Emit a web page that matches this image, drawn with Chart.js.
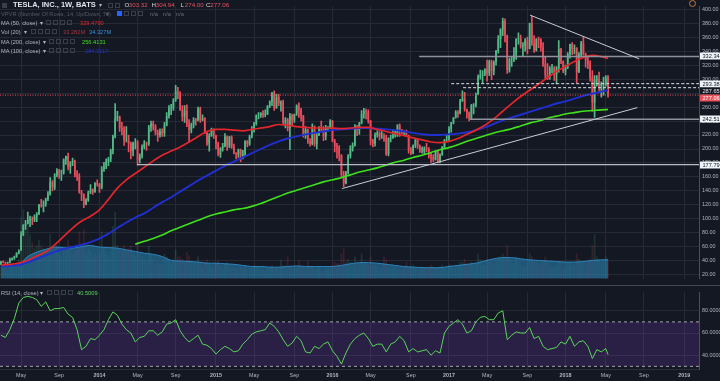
<!DOCTYPE html>
<html><head><meta charset="utf-8">
<script src="https://cdn.jsdelivr.net/npm/chart.js@4.4.1/dist/chart.umd.min.js"></script>
<style>
html,body{margin:0;padding:0;background:#141823;width:720px;height:381px;overflow:hidden;font-family:"Liberation Sans",Arial,sans-serif;}
#wrap{position:relative;width:720px;height:381px;}
#c1{position:absolute;left:0;top:0;}
#c2{position:absolute;left:0;top:286px;}
.sep{position:absolute;left:0;top:285px;width:720px;height:1px;background:#434651;}
.t{position:absolute;white-space:nowrap;font-size:5.7px;line-height:8px;color:#b2b5be;}
.sq{position:absolute;width:5px;height:5px;border:1px solid #3a3e4a;box-sizing:border-box;}
</style></head>
<body><div id="wrap">
<canvas id="c1" width="720" height="285"></canvas>
<div class="sep"></div>
<canvas id="c2" width="720" height="95"></canvas>
<div id="legend"></div>
</div>
<script>
// ---- time axis (weekly bars, week 0 = week of 2013-03-04) ----
const tickWeeks  = [9,26,44,61,78,96,113,131,148,165,183,200,217,235,252,270,287,305];
const tickLabels = ['May','Sep','2014','May','Sep','2015','May','Sep','2016','May','Sep','2017','May','Sep','2018','May','Sep','2019'];
const priceTicks = [20,40,60,80,100,120,140,160,180,200,220,240,260,280,300,320,340,360,380,400];
const rsiTicks = [40,60,80];
const rsiBand = [30,70];

// ---- weekly OHLC ----
const open = [
35,39,38,37,38,42,44,46,51,55, 77,91,93,98,100,99,103,107,120,119,
121,128,135,153,145,162,169,166,166,185, 190,174,181,183,163,160,138,135,121,127,
138,142,139,151,150,145,171,175,182,186, 198,218,244,246,230,227,212,212,208,197,
210,210,184,190,203,208,207,231,236,232, 224,220,225,223,234,247,258,259,270,282,
279,256,246,255,236,227,235,242,241,258, 242,244,223,208,219,228,219,207,192,201,
204,218,204,217,203,194,193,199,191,192, 211,207,218,226,236,248,248,251,249,250,
262,268,280,259,274,265,266,238,242,230, 248,241,250,262,256,247,220,227,211,207,
232,207,220,231,230,218,230,230,240,211, 204,202,191,163,151,166,190,201,205,232,
227,237,250,254,253,240,211,208,220,223, 218,218,215,193,216,216,220,222,234,225,
224,225,219,198,194,205,213,204,196,196, 201,200,191,189,185,197,181,192,203,214,
214,229,238,245,253,251,269,272,257,252, 244,262,263,278,303,305,306,314,308,325,
311,325,340,357,371,383,362,313,328,328, 335,357,358,347,348,355,343,380,351,341,
357,356,345,321,306,303,316,316,307,315, 343,325,311,317,336,350,343,344,310,335,
351,335,327,321,302,266,299,300,290,294, 294,303.32];
const high = [
39.5,40,38.5,38.5,44,44.5,47,52,56,82, 92,98,110,104,103,106,109,121,128,126,
130,139,159,155,165,172,171,170,186,190, 194,182,187,184,169,165,141,136,129,140,
149,143,152,156,151,175,181,186,188,200, 220,265,254,247,238,232,232,220,210,210,
215,212,193,206,212,210,234,240,240,235, 227,229,229,238,252,262,264,272,291,288,
282,262,262,263,242,237,245,244,260,260, 249,245,225,222,230,229,220,210,202,208,
222,219,218,219,207,195,200,200,198,212, 212,220,232,238,249,252,252,255,256,262,
269,281,283,278,278,269,270,245,244,251, 250,250,263,266,258,248,232,228,215,236,
233,223,232,240,232,234,232,242,241,214, 208,205,192,168,168,192,205,209,235,234,
238,255,258,257,256,241,214,223,226,225, 225,222,220,216,220,228,226,235,236,228,
226,227,220,202,206,214,214,206,203,203, 208,202,195,192,197,198,193,204,214,220,
232,238,245,255,255,271,283,281,257,253, 264,265,280,306,313,312,315,327,327,327,
326,341,362,372,387,386,363,330,331,345, 358,366,363,352,358,360,380,390,362,358,
360,358,352,331,322,318,321,318,318,355, 344,326,320,338,350,352,349,345,338,354,
360,337,332,326,312,305,305,310,296,303, 305,304.94];
const low = [
34.5,37,36,36,37.5,41,42,45,50,55, 76,85,93,89,92,96,96,106,117,110,
118,126,134,140,142,160,158,155,164,178, 170,165,176,160,155,137,126,116,120,125,
136,135,138,147,138,143,168,172,176,182, 193,216,240,225,220,205,210,196,186,190,
200,177,180,187,200,198,205,225,227,220, 211,217,218,218,233,244,249,255,268,272,
255,240,238,232,210,223,230,234,240,238, 240,222,205,197,218,215,200,190,188,197,
203,198,202,201,193,186,188,182,186,190, 203,205,216,224,234,243,245,245,246,249,
259,262,255,258,262,254,234,230,226,199, 233,238,248,245,240,217,215,208,204,206,
204,200,219,225,212,213,226,229,210,196, 187,183,160,146,150,164,187,197,204,219,
221,236,244,243,237,206,203,204,217,213, 215,211,191,190,210,215,217,218,218,222,
219,218,194,192,193,202,201,195,194,193, 196,187,181,182,184,180,180,191,201,211,
212,224,236,244,245,250,268,254,244,240, 242,250,260,278,300,295,305,297,305,299,
306,320,337,345,362,353,308,310,318,325, 328,350,344,333,340,336,343,348,338,340,
345,340,318,300,299,300,309,298,293,310, 322,309,306,315,330,335,336,295,309,332,
334,317,315,297,254,245,290,281,274,277, 290,274];
const close = [
39,38,37,38,42,44,46,51,55,77, 91,93,98,100,99,103,107,120,119,121,
128,135,153,145,162,169,166,166,185,190, 174,181,183,163,160,138,135,121,127,138,
142,139,151,150,145,171,175,182,186,198, 218,244,246,230,227,212,212,208,197,209,
210,184,190,203,208,207,231,236,232,224, 220,225,223,234,247,258,259,270,282,279,
256,246,255,236,227,235,242,241,258,242, 244,223,208,219,228,219,207,192,201,204,
218,204,217,203,194,193,199,191,192,211, 207,218,226,236,248,248,251,249,250,262,
268,280,259,274,265,266,238,242,230,248, 241,250,262,256,247,220,227,211,207,232,
207,220,231,230,218,230,230,240,211,204, 202,191,163,151,166,190,201,205,232,227,
237,250,254,253,240,211,208,220,223,218, 218,215,193,216,216,220,222,234,225,224,
225,219,198,194,205,213,204,196,196,201, 200,191,189,185,197,181,192,203,213,214,
229,238,245,253,251,269,272,257,252,244, 262,263,278,303,305,306,314,308,325,311,
325,340,357,371,383,362,313,328,328,335, 357,358,347,348,355,343,380,351,341,357,
356,345,321,306,303,315,316,307,315,343, 325,311,317,336,350,343,344,310,335,351,
335,327,321,302,266,299,300,290,294,294, 301,277.06];
// weekly volume, millions of shares
const volume = [
22,20,18,16,30,25,22,28,35, 110,125,100,115, 80,65,55,60,70,60,55,50,
50,80,60,55,60,45,40,55,50, 70,60,45,50,55,85,65,90,45,55,50,40,45,40,
45,85,55,45,40,50,95,120,60,55,50,60,50,55,60,45,42,
65,45,40,35,30,60,45,35,26,30,26,26,45,40,35,28,36,52,40,40,36,32,48,42,30,30,27,40,30,22,30,35,27,22,18,
28,32,24,19,28,30,24,19,21,19,17,24,19,24,17,19,19,24,24,21,17,17,15,19,21,24,21,19,17,34,24,24,40,21,19,21,19,33,24,21,19,33,24,21,17,17,21,15,14,19,16,17,
25,30,28,28,45,55,30,35,30,25,40,25,30,45,30,25,25,40,25,25,22,20,20,40,35,20,20,20,22,20,18,16,18,30,22,22,25,20,18,18,22,20,22,20,25,22,20,20,22,25,20,15,
25,25,20,22,22,30,30,35,28,25,30,25,28,45,35,25,25,35,30,30,25,30,40,40,45,40,60,35,28,28,40,30,25,22,22,30,45,40,30,30,25,25,30,40,30,25,20,22,25,30,25,18,
22,25,30,25,25,45,35,30,30,25,30,35,60,80,40,35,30,35,40,33.282];

// ---- indicators (every 4 weeks, last point = final week) ----
const ma50 = [34,35,37,41,47,53,63,75,87,97, 104,113,128,144,156,165,174,183,191,197,
203,210,218,225,228,228,227,226,228,230, 232,235,234,232,231,230,230,230,229,230,
231,231,228,225,222,219,216,213,210,209, 211,215,221,227,234,243,254,265,275,284,
293,302,311,318,325,331,334,332, 329.479];
const ma100 = [32,33,34,38,43,48,53,57,60,63, 67,72,79,87,95,102,108,116,124,131,
139,147,155,162,169,176,182,188,194,200, 206,211,215,218,221,223,225,227,228,229,
230,230,229,228,227,225,223,221,220,220, 221,222,224,227,231,236,241,245,249,253,
257,261,265,268,272,276,279,282, 284.3117];
const ma200 = [null,null,null,null,null,null,null,null,null,null,null,null,null,null,null,
64,68,72,77,83,88,93,98,103,107,110,113,115,118,122,127,132,137,141,145,149,153,156,159,163,
167,170,173,177,181,184,188,191,195,199,202,206,211,215,219,223,226,229,233,237,240,244,247,250,
252,254,255,256, 256.4131];
const volMA = [21,23,26,40,48,53,57,56,55,58, 60,57,56,55,52,49,46,44,40,33,
32,31,30,28,28,27,26,24,22,22, 21,21,22,23,22,22,22,22,24,27,
29,29,28,26,24,22,21,20,20,20, 22,24,26,28,32,36,38,38,36,34,
33,32,31,30,30,31,33,34, 34.327];
// RSI(14), every 2 weeks, last point = final week
const rsi = [58,56,63,73,87,92,93,92,90,84, 88,80,82,82,83,77,74,63,45,48,
55,54,58,63,72,79,76,68,63,60, 52,56,57,62,62,58,61,68,69,72,
62,56,52,55,58,50,49,46,41,45, 48,46,43,44,50,54,59,61,62,63,
69,66,61,54,48,51,57,53,43,42, 48,46,50,52,44,39,32,42,50,55,
58,60,55,48,50,50,43,50,52,57, 53,43,46,43,44,45,40,44,42,60,
66,69,72,68,60,62,70,74,75,72, 72,78,80,54,58,61,60,60,65,55,
57,48,45,46,47,52,50,57,48,52, 53,48,37,45,43,46, 40.5009];

// ---- drawings: levels and trendlines (week, price) ----
const levelPrices = [332.34, 293.38, 287.65, 242.51, 177.79];
const levelStartWeeks = [186.7, 201, 206.3, 209.4, 60.8];
const trendDownWeeks = [236.2, 284.9], trendDownPrices = [391.4, 328.9];
const trendUpWeeks = [152.2, 284.1], trendUpPrices = [143.4, 259.2];

// ---- styling ----
const X_MIN = -0.4, X_MAX = 311.6;
const BG = '#141823', GRID = '#262a35', TXT = '#b2b5be', FONT = '"Liberation Sans", Arial, sans-serif';
const GREEN = '#53b987', RED = '#eb4d5c';
const levelStyles = [
  {color:'#8f929b', width:1.6, dash:[]},
  {color:'#dfe1e8', width:1, dash:[3,2]},
  {color:'#dfe1e8', width:1, dash:[3,2]},
  {color:'#8f929b', width:1.6, dash:[]},
  {color:'#b9bcc4', width:1.3, dash:[]}
];
const labelStyles = [
  {bg:'#f0f3fa', fg:'#131722'}, {bg:'#f0f3fa', fg:'#131722'}, {bg:null, fg:'#e0e3eb'},
  {bg:'#f0f3fa', fg:'#131722'}, {bg:'#f0f3fa', fg:'#131722'}
];

Chart.defaults.font.family = FONT;
const W = close.map((_, i) => i);
const maWeeks = Array.from({length: ma50.length - 1}, (_, i) => i * 4).concat([W.length - 1]);
const rsiWeeks = Array.from({length: rsi.length - 1}, (_, i) => i * 2).concat([W.length - 1]);
const pts = (xs, ys) => xs.map((x, i) => ({x, y: ys[i]})).filter(p => p.y != null);
const isUp = i => close[i] >= open[i];
const last = close[close.length - 1];

const xTicks = s => { s.ticks = tickWeeks.map(v => ({value: v})); };
const lineDs = (data, color, width, order, extra) => Object.assign({
  type:'line', data, borderColor:color, borderWidth:width, pointRadius:0, tension:0,
  yAxisID:'y', order, fill:false
}, extra || {});

const datasets = [];
datasets.push(lineDs(pts(trendDownWeeks, trendDownPrices), '#c9ccd4', 1, 0));
datasets.push(lineDs(pts(trendUpWeeks, trendUpPrices), '#c9ccd4', 1, 0));
levelPrices.forEach((p, i) => {
  const st = levelStyles[i];
  datasets.push(lineDs([{x: levelStartWeeks[i], y: p}, {x: X_MAX, y: p}], st.color, st.width, 1, {borderDash: st.dash}));
});
datasets.push(lineDs([{x: X_MIN, y: last}, {x: X_MAX, y: last}], RED, 1, 1, {borderDash:[1,1.5]}));
datasets.push(lineDs(pts(maWeeks, ma50), '#e3262b', 1.7, 2, {tension:0.35, cubicInterpolationMode:'monotone'}));
datasets.push(lineDs(pts(maWeeks, ma100), '#1f2fd0', 1.9, 2, {tension:0.35, cubicInterpolationMode:'monotone'}));
datasets.push(lineDs(pts(maWeeks, ma200), '#3fe01c', 1.6, 2, {tension:0.35, cubicInterpolationMode:'monotone'}));
datasets.push({type:'bar', data: W.map(i => ({x:i, y:[open[i], close[i]]})), backgroundColor: W.map(i => isUp(i) ? GREEN : RED),
  grouped:false, categoryPercentage:1, barPercentage:0.72, borderWidth:0, yAxisID:'y', order:3});
datasets.push({type:'bar', data: W.map(i => ({x:i, y:[low[i], high[i]]})), backgroundColor: W.map(i => isUp(i) ? GREEN : RED),
  grouped:false, barThickness:1, borderWidth:0, yAxisID:'y', order:4});
datasets.push({type:'line', data: pts(maWeeks, volMA), yAxisID:'vol', borderColor:'#2b86bf', borderWidth:1,
  backgroundColor:'rgba(38,122,170,0.62)', fill:'origin', pointRadius:0, tension:0.3, order:5});
datasets.push({type:'bar', data: W.map(i => ({x:i, y:volume[i]})), yAxisID:'vol',
  backgroundColor: W.map(i => isUp(i) ? 'rgba(83,185,135,0.16)' : 'rgba(235,77,92,0.16)'),
  grouped:false, categoryPercentage:1, barPercentage:0.8, borderWidth:0, order:6});

const levelLabels = {
  id:'levelLabels',
  afterDraw(chart) {
    const {ctx} = chart, y = chart.scales.y;
    const x0 = y.left;
    ctx.save();
    ctx.font = '5.6px ' + FONT;
    ctx.textBaseline = 'middle';
    const items = levelPrices.map((p, i) => ({p, st: labelStyles[i]}));
    items.push({p: last, st: {bg: '#e8505b', fg: '#ffffff'}});
    items.forEach(it => { it.py = y.getPixelForValue(it.p); });
    items.sort((a, b) => a.py - b.py);
    for (let k = 1; k < items.length; k++) {
      if (items[k].py < items[k-1].py + 7) items[k].py = items[k-1].py + 7;
    }
    items.forEach(({p, st, py}) => {
      const cy = Math.round(py);
      ctx.fillStyle = st.bg || BG;
      ctx.fillRect(x0 + 1, cy - 3.5, 21, 7);
      ctx.fillStyle = st.fg;
      ctx.fillText(p.toFixed(2), x0 + 3.5, cy + 0.3);
    });
    ctx.restore();
  }
};

new Chart(document.getElementById('c1'), {
  type:'bar',
  data:{datasets},
  plugins:[levelLabels],
  options:{
    responsive:false, animation:false, devicePixelRatio:1, events:[],
    layout:{padding:0},
    plugins:{legend:{display:false}, tooltip:{enabled:false}},
    scales:{
      x:{type:'linear', min:X_MIN, max:X_MAX, offset:false, afterBuildTicks:xTicks, afterFit:s => { s.height = 0; },
         ticks:{display:false}, grid:{color:GRID, drawTicks:false, offset:false}, border:{display:false}},
      y:{type:'linear', position:'right', min:14.5, max:404.1,
         afterBuildTicks:s => { s.ticks = priceTicks.map(v => ({value:v})); }, afterFit:s => { s.width = 21; },
         grid:{color:GRID, drawTicks:false}, border:{display:true, color:'#4a4e59'},
         ticks:{color:TXT, font:{size:5.4}, padding:3, autoSkip:false, callback:v => v.toFixed(2)}},
      vol:{type:'linear', display:false, min:0, max:490}
    }
  }
});

new Chart(document.getElementById('c2'), {
  type:'line',
  data:{datasets:[
    {data: pts(rsiWeeks, rsi), borderColor:'#5ad65a', borderWidth:1, pointRadius:0, tension:0, fill:false, order:0},
    {data:[{x:X_MIN, y:rsiBand[1]}, {x:X_MAX, y:rsiBand[1]}], borderColor:'#a3a6af', borderWidth:1, borderDash:[3,3], pointRadius:0, fill:false, order:1},
    {data:[{x:X_MIN, y:rsiBand[0]}, {x:X_MAX, y:rsiBand[0]}], borderColor:'#a3a6af', borderWidth:1, borderDash:[3,3], pointRadius:0,
     fill:'-1', backgroundColor:'rgba(128,62,200,0.2)', order:2}
  ]},
  options:{
    responsive:false, animation:false, devicePixelRatio:1, events:[],
    layout:{padding:0},
    plugins:{legend:{display:false}, tooltip:{enabled:false}},
    scales:{
      x:{type:'linear', min:X_MIN, max:X_MAX, offset:false, afterBuildTicks:xTicks, afterFit:s => { s.height = 11; },
         grid:{color:GRID, drawTicks:false, offset:false}, border:{display:true, color:'#2a2e39'},
         ticks:{color:TXT, padding:2, maxRotation:0, autoSkip:false,
           font:c => ({size:5.4, weight: /^\d/.test(tickLabels[c.index] || '') ? 'bold' : 'normal'}),
           callback:(v, i) => tickLabels[i]}},
      y:{type:'linear', position:'right', min:26.7, max:96.7,
         afterBuildTicks:s => { s.ticks = rsiTicks.map(v => ({value:v})); }, afterFit:s => { s.width = 21; },
         grid:{color:GRID, drawTicks:false}, border:{display:true, color:'#4a4e59'},
         ticks:{color:TXT, font:{size:5.4}, padding:3, autoSkip:false, callback:v => v.toFixed(4)}}
    }
  }
});

// ---- legend (real text) ----
const L = document.getElementById('legend');
function txt(s, x, y, color, extra) {
  const d = document.createElement('div'); d.className = 't'; d.textContent = s;
  d.style.left = x + 'px'; d.style.top = y + 'px'; if (color) d.style.color = color;
  if (extra) Object.assign(d.style, extra); L.appendChild(d);
}
function sq(x, y, bg) {
  const d = document.createElement('div'); d.className = 'sq'; d.style.left = x + 'px'; d.style.top = y + 'px';
  if (bg) { d.style.background = bg; d.style.borderColor = bg; } L.appendChild(d);
}
sq(2, 3, '#3a3e4a');
txt('TESLA, INC., 1W, BATS', 13, 1, '#e0e3eb', {fontSize:'7.5px', fontWeight:'bold'});
txt('▾', 99, 1, '#b2b5be');
sq(108, 3); sq(115, 3);
const ohlc = [['O', open[open.length-1], 124.5], ['H', high[high.length-1], 151.5], ['L', low[low.length-1], 180.5], ['C', last, 206]];
ohlc.forEach(([k, v, x]) => {
  txt(k, x, 1, '#d1d4dc', {fontSize:'6.2px'});
  txt(v.toFixed(2), x + 4.3, 1, '#e8505b', {fontSize:'6.2px'});
});
txt('VPVR (Number Of Rows, 14, Up/Down, 70)', 1, 10, '#555966');
txt('▾', 106, 10, '#555966');
sq(117, 11, '#2962ff'); sq(124, 11); sq(131, 11); sq(138, 11);
txt('n/a', 150, 10, '#6a6d78'); txt('n/a', 163, 10, '#6a6d78'); txt('n/a', 176, 10, '#6a6d78');
txt('MA (50, close)', 1, 19); txt('▾', 40, 19); sq(46, 20); sq(53, 20); sq(60, 20); sq(67, 20);
txt(ma50[ma50.length-1].toFixed(4), 80, 19, '#e3262b');
txt('Vol (20)', 1, 28); txt('▾', 24, 28); sq(31, 29); sq(38, 29); sq(45, 29); sq(52, 29);
txt(volume[volume.length-1].toFixed(3) + 'M', 63, 28, '#a8323e');
txt(volMA[volMA.length-1].toFixed(3) + 'M', 89, 28, '#3b8fd9');
txt('MA (200, close)', 1, 38); txt('▾', 43, 38); sq(49, 39); sq(56, 39); sq(63, 39); sq(70, 39);
txt(ma200[ma200.length-1].toFixed(4), 82, 38, '#3fe01c');
txt('MA (100, close)', 1, 47); txt('▾', 43, 47); sq(49, 48); sq(56, 48); sq(63, 48); sq(70, 48);
txt(ma100[ma100.length-1].toFixed(4), 85, 47, '#1f2fd0');
txt('RSI (14, close)', 1, 289); txt('▾', 40, 289); sq(47, 290); sq(54, 290); sq(61, 290); sq(68, 290);
txt(rsi[rsi.length-1].toFixed(4), 77, 289, '#5ad65a');
const ic = document.createElement('div');
Object.assign(ic.style, {position:'absolute', left:'689px', top:'0px', width:'7px', height:'7px', borderRadius:'50%',
  border:'1px solid #c77a3a', boxSizing:'border-box'});
L.appendChild(ic);
</script>
</body></html>
